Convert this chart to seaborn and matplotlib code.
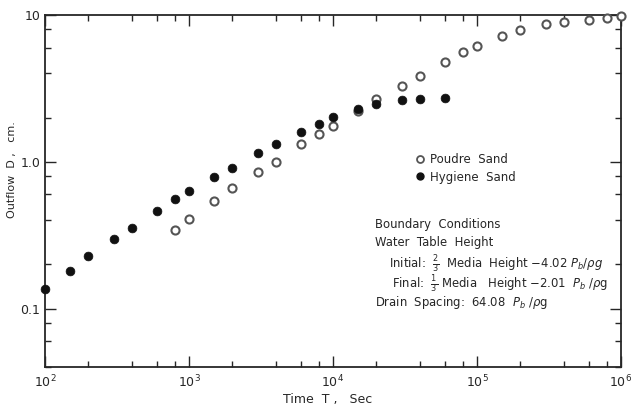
import numpy as np
import pandas as pd
import matplotlib
matplotlib.use("Agg")
import matplotlib.pyplot as plt
from matplotlib.ticker import FixedLocator, FixedFormatter, LogLocator, NullFormatter
from matplotlib.lines import Line2D
import seaborn as sns

# ---- data ----
hygiene_time = [100, 150, 200, 300, 400, 600, 800, 1000, 1500, 2000, 3000, 4000,
                6000, 8000, 10000, 15000, 20000, 30000, 40000, 60000]
hygiene_outflow = [0.135, 0.18, 0.227, 0.30, 0.354, 0.46, 0.557, 0.628, 0.787, 0.91,
                   1.15, 1.33, 1.59, 1.81, 2.01, 2.3, 2.48, 2.64, 2.67, 2.71]

poudre_time = [800, 1000, 1500, 2000, 3000, 4000, 6000, 8000, 10000, 15000, 20000,
               30000, 40000, 60000, 80000, 100000, 150000, 200000, 300000, 400000,
               600000, 800000, 1000000]
poudre_outflow = [0.344, 0.41, 0.537, 0.662, 0.85, 1.0, 1.33, 1.55, 1.76, 2.22, 2.67,
                  3.3, 3.87, 4.81, 5.57, 6.18, 7.2, 7.91, 8.65, 8.92, 9.24, 9.5, 9.84]

series_names = ["Poudre  Sand", "Hygiene  Sand"]
y_ticks = [0.1, 1.0, 10]
y_tick_labels = ["0.1", "1.0", "10"]
x_ticks = [1e2, 1e3, 1e4, 1e5, 1e6]
x_tick_labels = [r"$10^2$", r"$10^3$", r"$10^4$", r"$10^5$", r"$10^6$"]

df_p = pd.DataFrame({"Time": poudre_time, "Outflow": poudre_outflow})
df_h = pd.DataFrame({"Time": hygiene_time, "Outflow": hygiene_outflow})

sns.set_style("ticks")
plt.rcParams["font.family"] = ["DejaVu Sans"]
ink = "#262626"

fig = plt.figure(figsize=(6.31, 4.12), dpi=100)
ax = fig.add_axes([45/631, 1-367/412, (621-45)/631, (367-15)/412])

sns.scatterplot(data=df_p, x="Time", y="Outflow", ax=ax, marker="o", s=34,
                facecolor="white", edgecolor="#555555", linewidth=1.5, zorder=3,
                clip_on=False)
sns.scatterplot(data=df_h, x="Time", y="Outflow", ax=ax, marker="o", s=40,
                color="#111111", edgecolor="#111111", linewidth=0.5, zorder=4,
                clip_on=False)

ax.set_xscale("log")
ax.set_yscale("log")
ax.set_xlim(1e2, 1e6)
ax.set_ylim(0.04, 10)

ax.xaxis.set_major_locator(FixedLocator(x_ticks))
ax.xaxis.set_major_formatter(FixedFormatter(x_tick_labels))
ax.xaxis.set_minor_locator(LogLocator(base=10, subs=(2, 4, 6, 8)))
ax.xaxis.set_minor_formatter(NullFormatter())
ax.yaxis.set_major_locator(FixedLocator(y_ticks))
ax.yaxis.set_major_formatter(FixedFormatter(y_tick_labels))
ax.yaxis.set_minor_locator(LogLocator(base=10, subs=(2, 4, 6, 8)))
ax.yaxis.set_minor_formatter(NullFormatter())

ax.tick_params(which="both", direction="in", top=True, right=True, color=ink,
               labelcolor=ink, labelsize=9)
ax.tick_params(which="major", length=8, width=1.0)
ax.tick_params(which="minor", length=4, width=1.0)
ax.tick_params(axis="x", which="major", pad=5)
for sp in ax.spines.values():
    sp.set_color(ink)
    sp.set_linewidth(1.3)

ax.set_xlabel("Time  T ,   Sec", fontsize=9, color=ink)
ax.set_ylabel("Outflow  D ,   cm.", fontsize=8, color=ink)
ax.xaxis.set_label_coords(0.49, -0.075)
ax.yaxis.set_label_coords(-0.048, 0.56)

handles = [
    Line2D([], [], marker="o", linestyle="none", markersize=5, markerfacecolor="white",
           markeredgecolor="#555555", markeredgewidth=1.3),
    Line2D([], [], marker="o", linestyle="none", markersize=5, markerfacecolor="#111111",
           markeredgecolor="#111111"),
]
leg = ax.legend(handles, series_names, loc="upper left", bbox_to_anchor=(0.636, 0.62),
                frameon=False, fontsize=8.5, handlelength=0.6, handletextpad=0.6,
                labelspacing=0.35, borderaxespad=0)
for t in leg.get_texts():
    t.set_color(ink)

fs = 8.4
ax.text(0.573, 0.395, "Boundary  Conditions", transform=ax.transAxes, fontsize=fs, color=ink)
ax.text(0.573, 0.345, "Water  Table  Height", transform=ax.transAxes, fontsize=fs, color=ink)
ax.text(0.597, 0.282, r"Initial:  $\frac{2}{3}$  Media  Height $-$4.02 $P_b/\rho g$",
        transform=ax.transAxes, fontsize=fs, color=ink)
ax.text(0.602, 0.225, r"Final:  $\frac{1}{3}$ Media   Height $-$2.01  $P_b$ /$\rho$g",
        transform=ax.transAxes, fontsize=fs, color=ink)
ax.text(0.573, 0.172, r"Drain  Spacing:  64.08  $P_b$ /$\rho$g",
        transform=ax.transAxes, fontsize=fs, color=ink)

fig.savefig("out.png", dpi=100, facecolor="white")
